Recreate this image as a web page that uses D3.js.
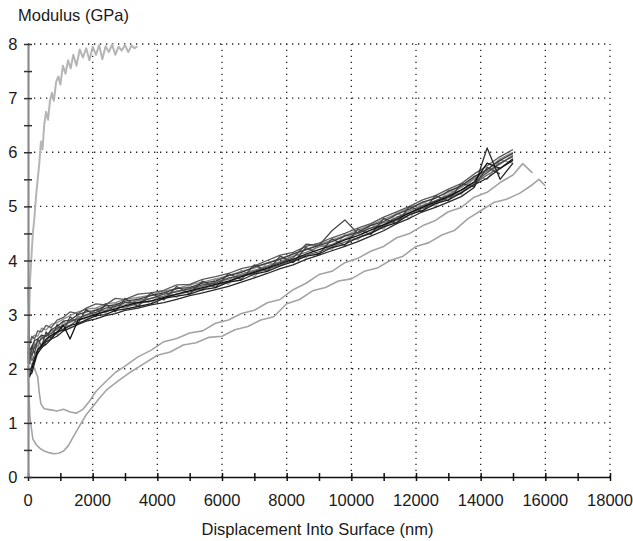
<!DOCTYPE html>
<html>
<head>
<meta charset="utf-8">
<script src="https://cdnjs.cloudflare.com/ajax/libs/d3/7.8.5/d3.min.js"></script>
<style>
  body { margin: 0; background: #fff; }
  text { font-family: "Liberation Sans", Arial, sans-serif; fill: #1a1a1a; }
</style>
</head>
<body>
<div id="chart"></div>
<script>
// ---- datos ----
var xTicks = [0, 2000, 4000, 6000, 8000, 10000, 12000, 14000, 16000, 18000];
var yTicks = [0, 1, 2, 3, 4, 5, 6, 7, 8];

// curva gris clara que sube hasta 8
var topX = [0,30,60,100,150,200,250,300,350,400,450,500,560,620,680,740,800,870,940,1000,1080,1160,1240,1320,1400,1500,1600,1700,1800,1900,2000,2100,2200,2300,2400,2500,2600,2700,2800,2900,3000,3100,3200,3300,3380];
var topY = [2.1,2.8,3.6,4.0,4.5,4.8,5.2,5.5,5.8,6.2,6.05,6.5,6.75,6.6,6.95,7.1,6.95,7.3,7.4,7.25,7.6,7.45,7.7,7.55,7.8,7.6,7.9,7.75,7.92,7.7,7.95,7.8,7.98,7.72,7.96,7.85,7.99,7.8,7.95,7.88,7.98,7.85,7.97,7.92,7.96];

// curvas grises claras de abajo
var lowAX = [0,80,200,300,350,400,500,700,900,1100,1300,1500,1700,1900,2100,2400,2700,3000,3400,3800,4200,4600,5000,5400,5800,6200,6600,7000,7400,7800,8200,8600,9000,9400,9800,10200,10600,11000,11400,11800,12200,12600,13000,13400,13800,14200,14600,15000,15300,15600];
var lowAY = [2.2,2.1,2.0,1.85,1.55,1.35,1.26,1.24,1.22,1.25,1.2,1.18,1.25,1.4,1.58,1.76,1.93,2.05,2.22,2.34,2.5,2.56,2.66,2.7,2.84,2.9,3.02,3.08,3.22,3.28,3.46,3.58,3.74,3.8,3.96,4.04,4.17,4.26,4.42,4.5,4.64,4.74,4.9,4.98,5.17,5.26,5.44,5.58,5.79,5.62];
var lowBX = [0,30,60,150,250,370,500,650,800,950,1100,1250,1400,1600,1800,2000,2200,2450,2800,3200,3600,4000,4400,4800,5200,5600,6000,6400,6800,7200,7600,8000,8400,8800,9200,9600,10000,10400,10800,11200,11600,12000,12400,12800,13200,13600,14000,14400,14800,15200,15600,15800,16000];
var lowBY = [2.0,1.5,1.1,0.7,0.6,0.53,0.48,0.45,0.43,0.44,0.48,0.58,0.74,0.95,1.15,1.3,1.45,1.62,1.78,1.95,2.1,2.25,2.31,2.44,2.48,2.58,2.6,2.72,2.78,2.9,2.96,3.2,3.28,3.44,3.5,3.62,3.66,3.8,3.86,4.0,4.08,4.26,4.33,4.47,4.56,4.77,4.92,5.07,5.13,5.24,5.4,5.5,5.38];

// curvas oscuras (misma rejilla de x)
var darkX = [0,50,120,200,300,420,560,720,900,1100,1300,1550,1800,2100,2400,2700,3000,3400,3800,4200,4600,5000,5400,5800,6200,6600,7000,7400,7800,8200,8600,9000,9400,9800,10200,10600,11000,11400,11800,12200,12600,13000,13400,13800,14200,14600,15000];
var darkA = [1.95,1.88,1.92,2.1,2.3,2.38,2.5,2.55,2.68,2.72,2.8,2.84,2.9,2.98,3.0,3.08,3.1,3.15,3.2,3.3,3.34,3.38,3.46,3.5,3.6,3.64,3.75,3.8,3.9,3.98,4.08,4.12,4.24,4.3,4.42,4.5,4.62,4.7,4.85,4.92,5.05,5.12,5.25,5.4,5.52,5.7,5.85];
var darkB = [2.3,2.35,2.4,2.52,2.55,2.62,2.6,2.72,2.78,2.88,2.9,3.0,3.05,3.08,3.16,3.18,3.25,3.28,3.35,3.4,3.48,3.5,3.58,3.62,3.72,3.78,3.88,3.95,4.02,4.12,4.2,4.28,4.35,4.45,4.52,4.65,4.72,4.85,4.95,5.08,5.15,5.28,5.38,5.55,5.68,5.85,5.98];
var darkC = [2.5,2.45,2.6,2.55,2.7,2.68,2.8,2.76,2.9,2.95,3.05,3.02,3.12,3.2,3.18,3.3,3.28,3.38,3.4,3.45,3.55,3.56,3.65,3.7,3.76,3.85,3.9,4.0,4.1,4.15,4.26,4.32,4.42,4.5,4.6,4.68,4.8,4.9,5.0,5.12,5.2,5.32,5.42,5.6,5.75,5.92,6.05];
var darkD = [2.05,1.95,2.05,2.2,2.28,2.4,2.45,2.55,2.6,2.7,2.75,2.82,2.88,2.92,2.98,3.02,3.08,3.12,3.18,3.22,3.28,3.35,3.4,3.46,3.52,3.6,3.68,3.76,3.85,3.92,4.02,4.1,4.18,4.26,4.35,4.45,4.55,4.68,4.78,4.9,4.98,5.08,5.18,5.35,6.08,5.5,5.8];
var darkE = [2.2,2.3,2.25,2.4,2.5,2.55,2.62,2.65,2.75,2.8,2.88,2.92,3.0,3.04,3.12,3.15,3.22,3.22,3.3,3.38,3.42,3.48,3.55,3.58,3.68,3.72,3.8,3.88,3.96,4.05,4.3,4.28,4.55,4.75,4.5,4.6,4.66,4.8,4.88,5.0,5.1,5.2,5.3,5.45,5.62,5.8,5.92];
var darkF = [2.4,2.2,2.35,2.45,2.42,2.58,2.6,2.7,2.72,2.82,2.85,2.95,2.98,3.08,3.08,3.16,3.18,3.26,3.3,3.34,3.44,3.46,3.52,3.6,3.65,3.75,3.82,3.9,3.98,4.08,4.15,4.25,4.3,4.4,4.5,4.6,4.7,4.78,4.92,5.02,5.1,5.22,5.35,5.5,5.65,5.78,5.95];
var darkG = [3.5,2.3,2.15,2.25,2.35,2.45,2.52,2.6,2.66,2.74,2.8,2.9,2.94,3.02,3.05,3.12,3.14,3.2,3.26,3.3,3.38,3.42,3.48,3.55,3.6,3.7,3.76,3.84,3.92,4.0,4.1,4.16,4.25,4.34,4.42,4.52,4.64,4.74,4.84,4.96,5.05,5.16,5.26,5.42,5.58,5.72,null];
var darkH = [2.6,2.5,2.55,2.62,2.6,2.75,2.72,2.82,2.85,2.92,2.98,3.05,3.1,3.12,3.2,3.22,3.28,3.32,3.36,3.44,3.48,3.55,3.6,3.66,3.72,3.8,3.86,3.95,4.04,4.12,4.2,4.3,4.38,4.46,4.56,4.66,4.76,4.86,4.98,5.06,5.16,5.26,5.38,5.52,5.68,5.88,6.0];
var darkI = [2.0,1.85,2.0,2.15,2.35,2.42,2.55,2.62,2.68,2.8,2.55,2.9,2.95,3.0,3.06,3.1,3.16,3.22,3.25,3.32,3.38,3.44,3.5,3.56,3.62,3.7,3.78,3.86,3.94,4.02,4.12,4.2,4.28,4.38,4.46,4.56,4.66,4.76,4.88,4.98,5.08,5.18,5.3,5.45,5.8,5.7,5.88];
var darkJ = [2.3,2.1,2.42,2.28,2.55,2.42,2.68,2.55,2.82,2.7,2.96,2.84,3.1,2.96,3.2,3.05,3.3,3.15,3.4,3.27,3.52,3.38,3.62,3.5,3.76,3.65,3.92,3.8,4.08,3.96,4.24,4.12,4.4,4.28,4.58,4.48,4.78,4.68,5.0,4.9,5.2,5.1,5.42,5.36,5.72,5.6,null];
var darkK = [2.1,2.4,2.2,2.5,2.35,2.62,2.5,2.75,2.62,2.88,2.76,2.98,2.9,3.12,3.02,3.22,3.1,3.32,3.2,3.44,3.32,3.54,3.44,3.66,3.56,3.82,3.7,3.96,3.9,4.14,4.05,4.3,4.2,4.48,4.38,4.66,4.58,4.88,4.78,5.08,5.0,5.3,5.22,5.56,5.5,5.86,5.8];

var darkSeries = [darkK, darkH, darkF, darkC, darkG, darkJ, darkB, darkE, darkA, darkD, darkI];
var darkColors = ["#999", "#8a8a8a", "#777", "#5a5a5a", "#666", "#444", "#3a3a3a", "#4a4a4a", "#1e1e1e", "#2a2a2a", "#111"];

// ---- lienzo ----
var width = 633, height = 541;
var svg = d3.select("#chart").append("svg")
    .attr("width", width)
    .attr("height", height);
svg.append("rect").attr("width", width).attr("height", height).attr("fill", "#fff");

var x = d3.scaleLinear().domain([0, 18000]).range([28, 610]);
var y = d3.scaleLinear().domain([0, 8]).range([477, 44]);

// rejilla punteada
svg.append("g").selectAll("line")
    .data(xTicks.slice(1))
    .enter().append("line")
    .attr("x1", d => x(d)).attr("x2", d => x(d))
    .attr("y1", y(0)).attr("y2", y(8))
    .attr("stroke", "#222").attr("stroke-width", 1.3)
    .attr("stroke-dasharray", "1.3,4.7");
svg.append("g").selectAll("line")
    .data(yTicks.slice(1))
    .enter().append("line")
    .attr("x1", x(0)).attr("x2", x(18000))
    .attr("y1", d => y(d)).attr("y2", d => y(d))
    .attr("stroke", "#222").attr("stroke-width", 1.3)
    .attr("stroke-dasharray", "1.3,4.7");

// curvas
var line = d3.line()
    .defined(d => d[1] != null)
    .x(d => x(d[0]))
    .y(d => y(d[1]));

function zip(xs, ys) { return xs.map((v, i) => [v, ys[i]]); }

var curves = svg.append("g").attr("fill", "none").attr("stroke-linejoin", "round");
curves.append("path").attr("d", line(zip(lowBX, lowBY)))
    .attr("stroke", "#a4a4a4").attr("stroke-width", 1.6);
curves.append("path").attr("d", line(zip(lowAX, lowAY)))
    .attr("stroke", "#a4a4a4").attr("stroke-width", 1.6);
curves.append("path").attr("d", line(zip(topX, topY)))
    .attr("stroke", "#b5b5b5").attr("stroke-width", 2);
curves.selectAll(".dark")
    .data(darkSeries)
    .enter().append("path")
    .attr("class", "dark")
    .attr("d", d => line(zip(darkX, d)))
    .attr("stroke", (d, i) => darkColors[i])
    .attr("stroke-width", 1.3);

// ejes
var xAxis = d3.axisBottom(x)
    .tickValues(d3.range(0, 18001, 1000))
    .tickSize(0)
    .tickFormat("");
var gx = svg.append("g").attr("transform", "translate(0," + y(0) + ")").call(xAxis);
gx.select(".domain").attr("stroke", "#111").attr("stroke-width", 1.6);
gx.selectAll(".tick line").attr("y1", -4).attr("y2", 4).attr("stroke", "#111").attr("stroke-width", 1.5);

var yAxis = d3.axisLeft(y)
    .tickValues(d3.range(0, 8.01, 0.5))
    .tickSize(0)
    .tickFormat("");
var gy = svg.append("g").attr("transform", "translate(" + x(0) + ",0)").call(yAxis);
gy.select(".domain").attr("stroke", "#8c8c8c").attr("stroke-width", 2.2);
gy.selectAll(".tick line").attr("x1", -4).attr("x2", 4).attr("stroke", "#333").attr("stroke-width", 1.5);

// etiquetas
svg.append("g").selectAll("text")
    .data(xTicks)
    .enter().append("text")
    .attr("x", d => x(d))
    .attr("y", 505.5)
    .attr("text-anchor", "middle")
    .attr("font-size", 16.5)
    .text(d => d);
svg.append("g").selectAll("text")
    .data(yTicks)
    .enter().append("text")
    .attr("x", 17.5)
    .attr("y", d => y(d) + 6)
    .attr("text-anchor", "end")
    .attr("font-size", 16.5)
    .text(d => d);

svg.append("text")
    .attr("x", 18).attr("y", 21)
    .attr("font-size", 16.5)
    .text("Modulus (GPa)");
svg.append("text")
    .attr("x", 317.5).attr("y", 535)
    .attr("text-anchor", "middle")
    .attr("font-size", 16.5)
    .text("Displacement Into Surface (nm)");
</script>
</body>
</html>
